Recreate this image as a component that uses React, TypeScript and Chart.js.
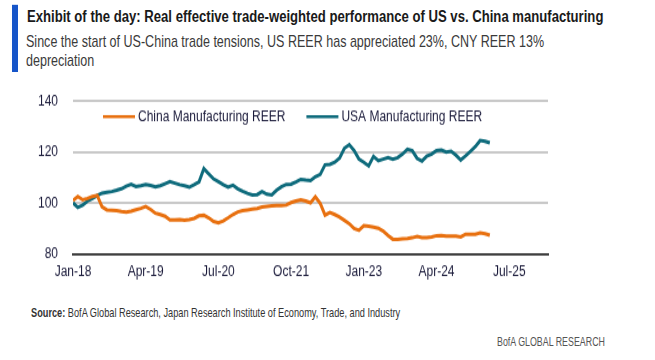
import React, { useEffect, useLayoutEffect, useRef } from "react";
import { Chart, registerables } from "chart.js";

Chart.register(...registerables);

// ---- data (one value per month, starting Jan-18) ----
const seriesNames = ["China Manufacturing REER", "USA Manufacturing REER"];

const chinaValues = [
  101, 102.6, 101.3, 101.8, 102.6, 103, 98.5, 97.3, 97.2, 97, 96.7, 96.5,
  96.8, 97.4, 97.9, 98.6, 97.5, 96, 95.5, 94.8, 93.4, 93.4, 93.5, 93.3,
  93.5, 94, 95, 95.2, 94.2, 92.8, 92.2, 93, 94.2, 95.5, 96.5, 97,
  97.3, 97.6, 97.9, 98.4, 98.7, 98.9, 99, 99, 99.2, 100.2, 100.8, 101.3,
  100.8, 100.1, 102.5, 99.9, 95.3, 96.3, 95.5, 94.5, 93.2, 91.9, 90, 89.3,
  91.1, 90.9, 90.6, 90.1, 89, 87.3, 85.8, 85.8, 86, 86.1, 86.4, 86.9,
  86.5, 86.5, 86.7, 87.2, 87.3, 87, 87, 87, 86.7, 87.8, 87.8, 87.8,
  88.3, 88, 87.4,
];

const usaValues = [
  100.1, 98.3, 99.2, 100.8, 101.8, 103, 103.9, 104.2, 104.5, 105, 105.6, 106.6,
  107.3, 106.5, 106.8, 107.3, 106.9, 106.3, 106.8, 107.6, 108.4, 107.8, 107.2, 106.8,
  106.2, 107.2, 108.3, 113.5, 111.5, 109.5, 108.4, 107.2, 106.3, 107, 105.6, 104.6,
  103.8, 103.2, 103.3, 104.5, 103.5, 103.2, 105, 106.4, 107.3, 107.4, 108.3, 109.3,
  109, 108.8, 110.3, 111.2, 115, 115.2, 116, 117.6, 121.5, 122.9, 120.6, 117.2,
  116, 114.6, 118.3, 116.6, 117.2, 117.8, 117.2, 117.8, 119.2, 121.1, 120.5, 117.5,
  116.5, 118.4, 119.2, 120.6, 120.8, 120, 120.3, 118.8, 116.9, 118.5, 120.3, 122.1,
  124.5, 124.2, 123.6,
];

const tickMonths = [0, 15, 30, 45, 60, 75, 90];
const tickLabels = ["Jan-18", "Apr-19", "Jul-20", "Oct-21", "Jan-23", "Apr-24", "Jul-25"];
const yTicks = [80, 100, 120, 140];

// ---- styles ----
const ORANGE = "#E8700F";
const TEAL = "#0E6B7C";
const LABEL = "#1a1a3a";
const FONT_FAMILY = "'Liberation Sans', Arial, sans-serif";
const NARROW = "'Liberation Sans Narrow', 'Liberation Sans', Arial, sans-serif";

const legendPlugin = {
  id: "insideLegend",
  afterDatasetsDraw(chart: any) {
    const ctx = chart.ctx;
    const area = chart.chartArea;
    ctx.save();
    ctx.font = `12px ${FONT_FAMILY}`;
    ctx.textBaseline = "middle";
    ctx.textAlign = "left";
    let x = area.left + 30;
    const y = area.top + 13;
    chart.data.datasets.forEach((ds: any) => {
      ctx.strokeStyle = ds.borderColor;
      ctx.lineWidth = 2.5;
      ctx.beginPath();
      ctx.moveTo(x, y);
      ctx.lineTo(x + 32, y);
      ctx.stroke();
      ctx.fillStyle = LABEL;
      ctx.fillText(ds.label, x + 35, y);
      x += 35 + ctx.measureText(ds.label).width + 21;
    });
    ctx.restore();
  },
};

function Fit({ width, style, children }: any) {
  const ref = useRef<HTMLDivElement>(null);
  useLayoutEffect(() => {
    const el = ref.current;
    if (!el) return;
    el.style.transform = "none";
    const w = el.offsetWidth;
    if (w > 0) el.style.transform = `scaleX(${width / w})`;
  });
  return (
    <div
      ref={ref}
      style={{ position: "absolute", whiteSpace: "nowrap", transformOrigin: "0 0", ...style }}
    >
      {children}
    </div>
  );
}

function LineChart() {
  const canvasRef = useRef<HTMLCanvasElement>(null);
  useEffect(() => {
    const canvas = canvasRef.current;
    if (!canvas) return;
    const font = { family: FONT_FAMILY, size: 12 };
    const chart = new Chart(canvas, {
      type: "line",
      data: {
        datasets: [
          {
            label: seriesNames[0],
            data: chinaValues.map((v, i) => ({ x: i, y: v })),
            borderColor: ORANGE,
            backgroundColor: ORANGE,
            borderWidth: 3,
            pointRadius: 0,
            tension: 0,
            fill: false,
          },
          {
            label: seriesNames[1],
            data: usaValues.map((v, i) => ({ x: i, y: v })),
            borderColor: TEAL,
            backgroundColor: TEAL,
            borderWidth: 3,
            pointRadius: 0,
            tension: 0,
            fill: false,
          },
        ],
      },
      options: {
        animation: false,
        responsive: false,
        maintainAspectRatio: false,
        layout: { padding: { left: 0, right: 107, top: 21, bottom: 0 } },
        plugins: { legend: { display: false }, tooltip: { enabled: false } },
        scales: {
          x: {
            type: "linear",
            min: 0,
            max: 98,
            grid: { display: false, drawTicks: false },
            border: { display: true, color: "#404040", width: 2 },
            ticks: {
              autoSkip: false,
              maxRotation: 0,
              padding: 7.5,
              font,
              color: LABEL,
              callback: (v: any) => {
                const i = tickMonths.indexOf(Number(v));
                return i >= 0 ? tickLabels[i] : "";
              },
            },
            afterBuildTicks: (s: any) => {
              s.ticks = tickMonths.map((v) => ({ value: v }));
            },
            afterFit: (s: any) => {
              s.height = 24.3;
            },
          },
          y: {
            min: 80,
            max: 140,
            grid: {
              color: (c: any) => (c.tick && c.tick.value === 80 ? "#404040" : "#c8c8c8"),
              lineWidth: 2,
              drawTicks: false,
            },
            border: { display: false },
            ticks: { padding: 15, font, color: LABEL },
            afterBuildTicks: (s: any) => {
              s.ticks = yTicks.map((v) => ({ value: v }));
            },
            afterFit: (s: any) => {
              s.width = 73;
            },
          },
        },
      },
      plugins: [legendPlugin],
    } as any);
    return () => chart.destroy();
  }, []);
  return (
    <canvas
      ref={canvasRef}
      width={655}
      height={174}
      style={{ position: "absolute", left: 0, top: 61.75, width: 655, height: 174, display: "block" }}
    />
  );
}

export default function App() {
  return (
    <div
      style={{
        position: "absolute",
        left: 0,
        top: 0,
        width: 655,
        height: 300,
        background: "#fff",
        overflow: "hidden",
        transform: "scaleY(1.2)",
        transformOrigin: "0 0",
      }}
    >
      <div style={{ position: "absolute", left: 12, top: 4.2, width: 6, height: 55.5, background: "#1655C9" }} />
      <Fit
        width={576}
        style={{ left: 27, top: 7, fontFamily: NARROW, fontWeight: 700, fontSize: 13, lineHeight: "13px", color: "#1a1a1a" }}
      >
        Exhibit of the day: Real effective trade-weighted performance of US vs. China manufacturing
      </Fit>
      <Fit
        width={518}
        style={{ left: 26, top: 27.3, fontFamily: NARROW, fontSize: 13.5, lineHeight: "16px", color: "#3a3a3a" }}
      >
        Since the start of US-China trade tensions, US REER has appreciated 23%, CNY REER 13%
        <br />
        depreciation
      </Fit>
      <LineChart />
      <Fit
        width={369}
        style={{ left: 31, top: 254.8, fontFamily: NARROW, fontSize: 10.5, lineHeight: "10.5px", color: "#333" }}
      >
        <b>Source:</b> BofA Global Research, Japan Research Institute of Economy, Trade, and Industry
      </Fit>
      <Fit
        width={108}
        style={{ left: 497, top: 280, fontFamily: NARROW, fontSize: 10, lineHeight: "10px", color: "#555" }}
      >
        BofA GLOBAL RESEARCH
      </Fit>
    </div>
  );
}
